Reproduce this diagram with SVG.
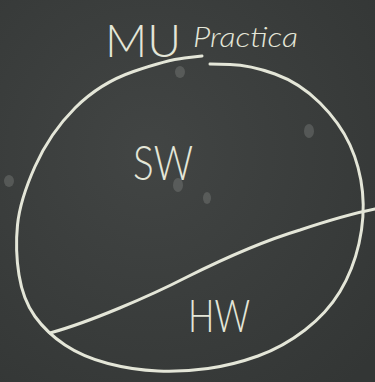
<svg xmlns="http://www.w3.org/2000/svg" width="375" height="382" viewBox="0 0 375 382">
  <defs>
    <radialGradient id="board" cx="0.4" cy="0.4" r="0.8">
      <stop offset="0" stop-color="#424544"/>
      <stop offset="1" stop-color="#333635"/>
    </radialGradient>
    <style>
      .chalk { fill: none; stroke: #e4e6d8; stroke-width: 3; stroke-linecap: round; stroke-linejoin: round; }
      .label { fill: #e4e6d8; font-family: "Lato", "Liberation Sans", "DejaVu Sans", sans-serif; font-weight: 300; }
      .smudge { fill: #8a8d8a; opacity: 0.35; }
    </style>
  </defs>
  <rect width="375" height="382" fill="url(#board)"/>
  <g id="smudges">
    <ellipse class="smudge" cx="180" cy="72" rx="5" ry="6"/>
    <ellipse class="smudge" cx="309" cy="131" rx="5" ry="7"/>
    <ellipse class="smudge" cx="9" cy="181" rx="5" ry="6"/>
    <ellipse class="smudge" cx="178" cy="185" rx="5" ry="7"/>
    <ellipse class="smudge" cx="207" cy="198" rx="4" ry="6"/>
  </g>
  <g id="title">
    <text class="label" x="105" y="57" font-size="46" textLength="76" lengthAdjust="spacingAndGlyphs">MU</text>
    <text class="label" x="193" y="47" font-size="28" font-style="italic" textLength="105" lengthAdjust="spacingAndGlyphs">Practica</text>
  </g>
  <g id="boundary">
    <path class="chalk" d="M202,56 L184.5,58 Q167,60 133.5,71.5 Q100,83 75,108 Q50,133 35,166.5 Q20,200 17.5,225 Q15,250 19,275 Q23,300 35,316.5 Q47,333 65,345 Q83,357 108,363.5 Q133,370 158,371 Q183,372 208,368.5 Q233,365 258,356 Q283,347 305,330 Q327,313 340,291.5 Q353,270 359,243.5 Q365,217 362.5,192 Q360,167 350,145 Q340,123 320,103 Q300,83 275,74 Q250,65 230,64.5 L210,64"/>
  </g>
  <g id="connectors">
    <path class="chalk" d="M50,333 C90,322 150,296 187,277 C215,263 260,242 300,230 C330,220 355,213 375,209"/>
  </g>
  <g id="sw">
    <text class="label" x="133" y="180" font-size="48" textLength="60" lengthAdjust="spacingAndGlyphs">SW</text>
  </g>
  <g id="hw">
    <text class="label" x="188" y="332" font-size="46" textLength="62" lengthAdjust="spacingAndGlyphs">HW</text>
  </g>
</svg>
